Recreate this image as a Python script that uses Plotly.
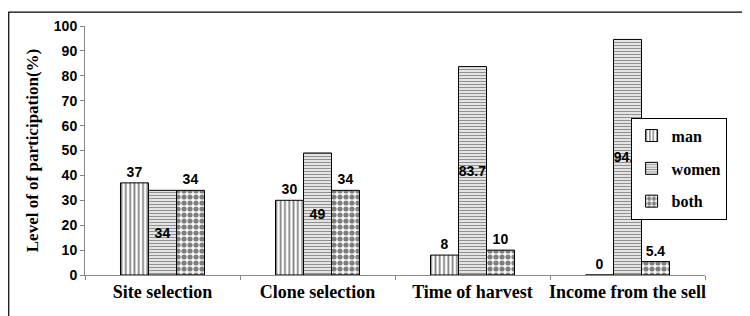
import plotly.graph_objects as go

categories = ["Site selection", "Clone selection", "Time of harvest", "Income from the sell"]
man = [37, 30, 8, 0]
women = [34, 49, 83.7, 94.6]
both = [34, 34, 10, 5.4]
man_labels = ["37", "30", "8", "0"]
women_labels = ["34", "49", "83.7", "94.6"]
both_labels = ["34", "34", "10", "5.4"]
y_ticks = list(range(0, 101, 10))

SERIF = "Liberation Serif"
SANS = "Liberation Sans"
lab_font = dict(family=SANS, size=14, color="black")

fig = go.Figure()
fig.add_trace(go.Bar(
    name="<b>man</b>", x=categories, y=man, text=man_labels, textposition="outside",
    textfont=lab_font, cliponaxis=False, legendgroup="a", textangle=0,
    marker=dict(color="white", line=dict(color="black", width=1),
                pattern=dict(shape="|", fgcolor="black", bgcolor="white", size=4.3, solidity=0.4)),
))
fig.add_trace(go.Bar(
    name="<b>women</b>", x=categories, y=women, text=women_labels, textposition="inside",
    insidetextanchor="middle", constraintext="none", textfont=lab_font, legendgroup="b",
    textangle=0,
    marker=dict(color="white", line=dict(color="black", width=1),
                pattern=dict(shape="-", fgcolor="#222", bgcolor="white", size=3, solidity=0.5)),
))
fig.add_trace(go.Bar(
    name="<b>both</b>", x=categories, y=both, text=both_labels, textposition="outside",
    textfont=lab_font, cliponaxis=False, legendgroup="c", textangle=0,
    marker=dict(color="white", line=dict(color="black", width=1),
                pattern=dict(shape=".", fgcolor="black", bgcolor="white", size=6, solidity=0.6)),
))

fig.update_layout(
    width=742, height=308,
    margin=dict(l=77, r=45, t=18, b=41, autoexpand=False),
    paper_bgcolor="white", plot_bgcolor="white",
    barmode="group", bargap=0.458, bargroupgap=0,
    showlegend=True,
    legend=dict(x=0.88, y=0.632, xanchor="left", yanchor="top",
                bordercolor="black", borderwidth=1, bgcolor="white",
                font=dict(family=SERIF, size=16, color="black"),
                tracegroupgap=9, itemwidth=30),
    shapes=[dict(type="rect", xref="paper", yref="paper", x0=-0.123, x1=1.1,
                 y0=-0.2, y1=1.056, line=dict(color="black", width=1.2), layer="below")],
)
fig.update_xaxes(
    showline=True, linecolor="#888", linewidth=1, automargin=False, tickangle=0,
    ticks="outside", tickson="boundaries", ticklen=4, tickcolor="#888",
    tickfont=dict(family=SERIF, size=18, color="black"),
    showgrid=False,
    tickvals=categories, ticktext=["<b>" + c + "</b>" for c in categories],
)
fig.update_yaxes(
    range=[0, 100], showline=True, linecolor="#888", linewidth=1, automargin=False,
    ticks="outside", ticklen=4, tickcolor="#888", showgrid=False, zeroline=False,
    tickfont=dict(family=SANS, size=14, color="black"),
    tickvals=y_ticks, ticktext=["<b>%d</b>" % v for v in y_ticks],
    title=dict(text="<b>Level of of participation(%)</b>", standoff=10,
               font=dict(family=SERIF, size=17, color="black")),
)
fig.update_traces(texttemplate="<b>%{text}</b>")

fig.write_html("out.html")
